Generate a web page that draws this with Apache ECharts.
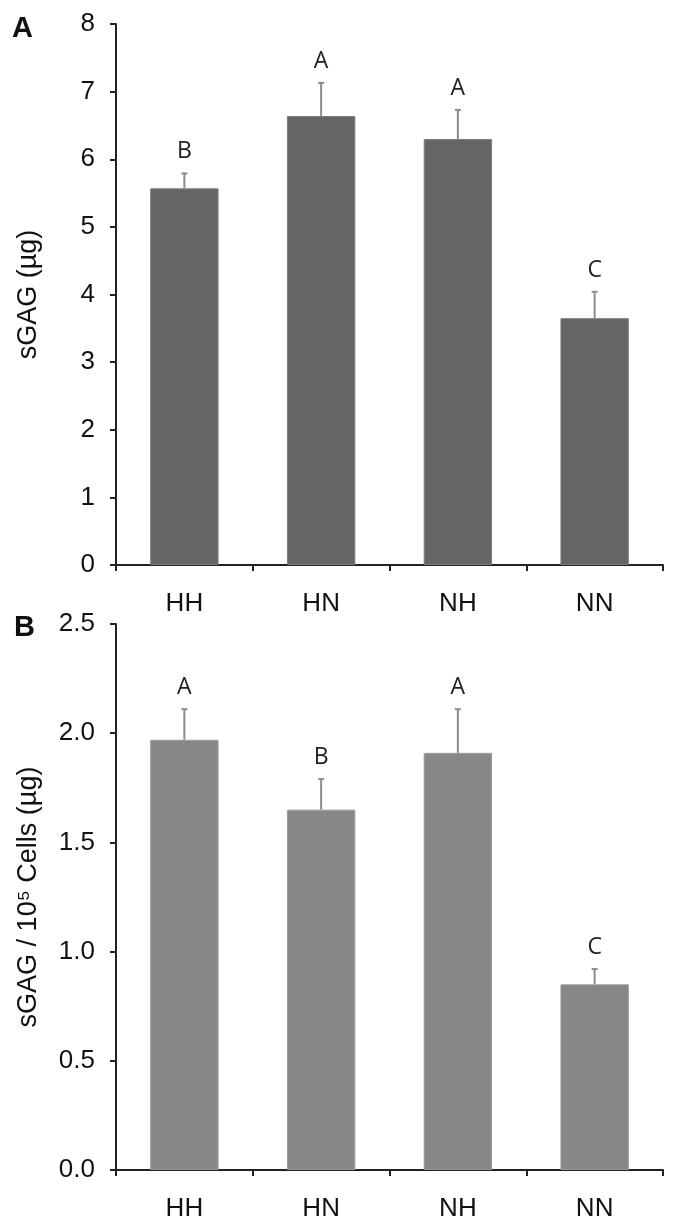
<!DOCTYPE html>
<html>
<head>
<meta charset="utf-8">
<script src="https://cdn.jsdelivr.net/npm/echarts@6/dist/echarts.min.js"></script>
<style>
  html, body { margin: 0; padding: 0; background: #fff; }
  #chart { width: 677px; height: 1226px; }
</style>
</head>
<body>
<div id="chart"></div>
<script>
// groups on the x axis
const categories = ['HH', 'HN', 'NH', 'NN'];

// panel A: sGAG (µg)
const meanA = [5.57, 6.64, 6.30, 3.65];
const errTopA = [5.79, 7.13, 6.73, 4.04];
const lettersA = ['B', 'A', 'A', 'C'];

// panel B: sGAG / 10^5 cells (µg)
const meanB = [1.97, 1.65, 1.91, 0.85];
const errTopB = [2.11, 1.79, 2.11, 0.92];
const lettersB = ['A', 'B', 'A', 'C'];

const chart = echarts.init(document.getElementById('chart'));

const FONT = 'Liberation Sans, Arial, Helvetica, sans-serif';

// upper whisker + small cap + significance letter
function errorItem(color) {
  return function (params, api) {
    const i = api.value(0);
    const base = api.coord([i, api.value(1)]);
    const top = api.coord([i, api.value(2)]);
    return {
      type: 'group',
      children: [
        { type: 'line', shape: { x1: base[0], y1: base[1], x2: top[0], y2: top[1] },
          style: { stroke: color, lineWidth: 2 } },
        { type: 'line', shape: { x1: top[0] - 3, y1: top[1], x2: top[0] + 3, y2: top[1] },
          style: { stroke: color, lineWidth: 2 } },
        { type: 'text', x: top[0], y: top[1] - 10,
          style: { text: api.value(3), fill: '#222', font: '23px "Open Sans", sans-serif',
                   align: 'center', verticalAlign: 'bottom' } }
      ]
    };
  };
}

function xAxisCfg(gridIndex) {
  return {
    type: 'category', gridIndex: gridIndex, data: categories,
    axisLine: { lineStyle: { color: '#222', width: 2 } },
    axisTick: { show: true, length: 6, lineStyle: { color: '#222', width: 2 } },
    axisLabel: { color: '#111', fontSize: 26, fontFamily: FONT, margin: 26 }
  };
}

function yAxisCfg(gridIndex, max, interval, name, digits) {
  return {
    type: 'value', gridIndex: gridIndex, min: 0, max: max, interval: interval,
    name: name, nameLocation: 'middle', nameGap: 74,
    nameTextStyle: { color: '#111', fontSize: 27, fontFamily: FONT },
    splitLine: { show: false },
    axisLine: { show: true, lineStyle: { color: '#222', width: 2 } },
    axisTick: { show: true, length: 6, lineStyle: { color: '#222', width: 2 } },
    axisLabel: { color: '#111', fontSize: 26, fontFamily: FONT, margin: 21,
                 formatter: v => v.toFixed(digits) }
  };
}

chart.setOption({
  animation: false,
  backgroundColor: '#fff',
  title: [
    { text: 'A', left: 7, top: 9, textStyle: { fontSize: 29, fontWeight: 'bold', color: '#111', fontFamily: FONT } },
    { text: 'B', left: 9, top: 608, textStyle: { fontSize: 29, fontWeight: 'bold', color: '#111', fontFamily: FONT } }
  ],
  grid: [
    { left: 116, top: 24, width: 547, height: 541 },
    { left: 116, top: 624, width: 547, height: 546 }
  ],
  xAxis: [xAxisCfg(0), xAxisCfg(1)],
  yAxis: [
    yAxisCfg(0, 8, 1, 'sGAG (µg)', 0),
    yAxisCfg(1, 2.5, 0.5, 'sGAG / 10⁵ Cells (µg)', 1)
  ],
  series: [
    { type: 'bar', xAxisIndex: 0, yAxisIndex: 0, data: meanA, barWidth: '50%',
      itemStyle: { color: '#656563', borderColor: '#7d7d7b', borderWidth: 1 } },
    { type: 'bar', xAxisIndex: 1, yAxisIndex: 1, data: meanB, barWidth: '50%',
      itemStyle: { color: '#878886', borderColor: '#9a9b99', borderWidth: 1 } },
    { type: 'custom', xAxisIndex: 0, yAxisIndex: 0, renderItem: errorItem('#8c8c8c'),
      encode: { x: 0, y: 2 },
      data: categories.map((c, i) => [i, meanA[i], errTopA[i], lettersA[i]]), z: 3 },
    { type: 'custom', xAxisIndex: 1, yAxisIndex: 1, renderItem: errorItem('#8c8c8c'),
      encode: { x: 0, y: 2 },
      data: categories.map((c, i) => [i, meanB[i], errTopB[i], lettersB[i]]), z: 3 }
  ]
});
</script>
</body>
</html>
